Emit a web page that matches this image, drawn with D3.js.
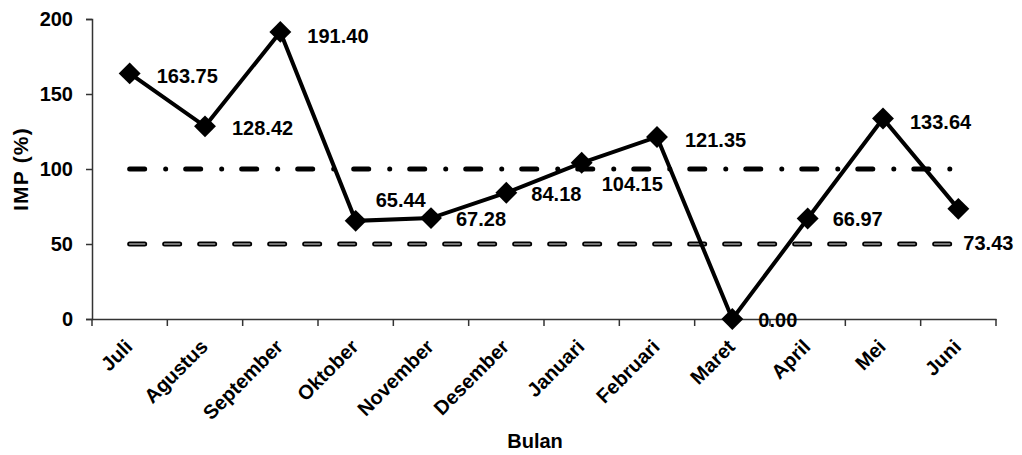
<!DOCTYPE html>
<html>
<head>
<meta charset="utf-8">
<script src="https://cdn.jsdelivr.net/npm/d3@7"></script>
<style>
  body { margin: 0; background: #fff; }
  text { font-family: "Liberation Sans", Arial, sans-serif; font-weight: bold; fill: #000; }
</style>
</head>
<body>
<div id="chart"></div>
<script>
const months = ["Juli", "Agustus", "September", "Oktober", "November", "Desember",
  "Januari", "Februari", "Maret", "April", "Mei", "Juni"];
const imp = [163.75, 128.42, 191.40, 65.44, 67.28, 84.18, 104.15, 121.35, 0.00, 66.97, 133.64, 73.43];
const refHigh = 100;
const refLow = 50;
const yTicks = [0, 50, 100, 150, 200];

// label offsets from the marker (px), the chart moves a few to avoid the lines
const labelShift = [[27, 3], [27, 2], [27, 4], [20, -21], [25, 1], [25, 1],
  [20, 21], [28, 3], [26, 1], [25, 0], [27, 3], [5, 34]];

const W = 1022, H = 455;
const margin = { top: 19, right: 26, bottom: 136, left: 92 };
const width = W - margin.left - margin.right;
const height = H - margin.top - margin.bottom;

const svg = d3.select("#chart").append("svg")
  .attr("width", W)
  .attr("height", H);

const g = svg.append("g")
  .attr("transform", `translate(${margin.left},${margin.top})`);

const x = d3.scaleBand().domain(months).range([0, width]);
const cx = m => x(m) + x.bandwidth() / 2;
const y = d3.scaleLinear().domain([0, 200]).range([height, 0]);

// reference lines
g.append("path")
  .attr("d", d3.line().x(d => cx(d)).y(() => y(refHigh))(months))
  .attr("fill", "none")
  .attr("stroke", "#000")
  .attr("stroke-width", 5)
  .attr("stroke-linecap", "round")
  .attr("stroke-dasharray", "15,21,0.01,20");

const lowPath = d3.line().x(d => cx(d)).y(() => y(refLow))(months);
g.append("path")
  .attr("d", lowPath)
  .attr("fill", "none")
  .attr("stroke", "#000")
  .attr("stroke-width", 5)
  .attr("stroke-linecap", "round")
  .attr("stroke-dasharray", "15,20");
g.append("path")
  .attr("d", lowPath)
  .attr("fill", "none")
  .attr("stroke", "#9a9a9a")
  .attr("stroke-width", 1.6)
  .attr("stroke-linecap", "round")
  .attr("stroke-dasharray", "15,20");

// axes
const yAxis = g.append("g")
  .call(d3.axisLeft(y).tickValues(yTicks).tickSize(6).tickPadding(13));
yAxis.select(".domain").attr("stroke", "#333").attr("stroke-width", 1.5);
yAxis.selectAll(".tick line").attr("stroke", "#333").attr("stroke-width", 1.5);
yAxis.selectAll(".tick text").style("font-size", "20px");

const xAxis = g.append("g")
  .attr("transform", `translate(0,${height})`)
  .call(d3.axisBottom(x).tickSize(0).tickFormat(""));
xAxis.select(".domain").attr("stroke", "#333").attr("stroke-width", 1.5);

g.append("g")
  .selectAll("line")
  .data(d3.range(months.length + 1))
  .join("line")
  .attr("x1", i => i * x.bandwidth())
  .attr("x2", i => i * x.bandwidth())
  .attr("y1", height)
  .attr("y2", height + 7)
  .attr("stroke", "#333")
  .attr("stroke-width", 1.5);

g.append("g")
  .selectAll("text")
  .data(months)
  .join("text")
  .attr("transform", d => `translate(${cx(d) + 4},${height + 29}) rotate(-45)`)
  .attr("text-anchor", "end")
  .style("font-size", "20px")
  .text(d => d);

// axis titles
g.append("text")
  .attr("transform", `translate(${-64},${height / 2}) rotate(-90)`)
  .attr("text-anchor", "middle")
  .style("font-size", "21px")
  .style("letter-spacing", "1.2px")
  .text("IMP (%)");

g.append("text")
  .attr("x", width / 2 - 9)
  .attr("y", height + 129)
  .attr("text-anchor", "middle")
  .style("font-size", "20px")
  .text("Bulan");

// data line
g.append("path")
  .datum(imp)
  .attr("d", d3.line().x((d, i) => cx(months[i])).y(d => y(d)))
  .attr("fill", "none")
  .attr("stroke", "#000")
  .attr("stroke-width", 4)
  .attr("stroke-linejoin", "miter");

g.append("g")
  .selectAll("path")
  .data(imp)
  .join("path")
  .attr("d", d3.symbol(d3.symbolSquare, 240))
  .attr("transform", (d, i) => `translate(${cx(months[i])},${y(d)}) rotate(45)`)
  .attr("fill", "#000");

g.append("g")
  .selectAll("text")
  .data(imp)
  .join("text")
  .attr("x", (d, i) => cx(months[i]) + labelShift[i][0])
  .attr("y", (d, i) => y(d) + labelShift[i][1])
  .attr("dy", "0.35em")
  .style("font-size", "20px")
  .text(d => d.toFixed(2));
</script>
</body>
</html>
